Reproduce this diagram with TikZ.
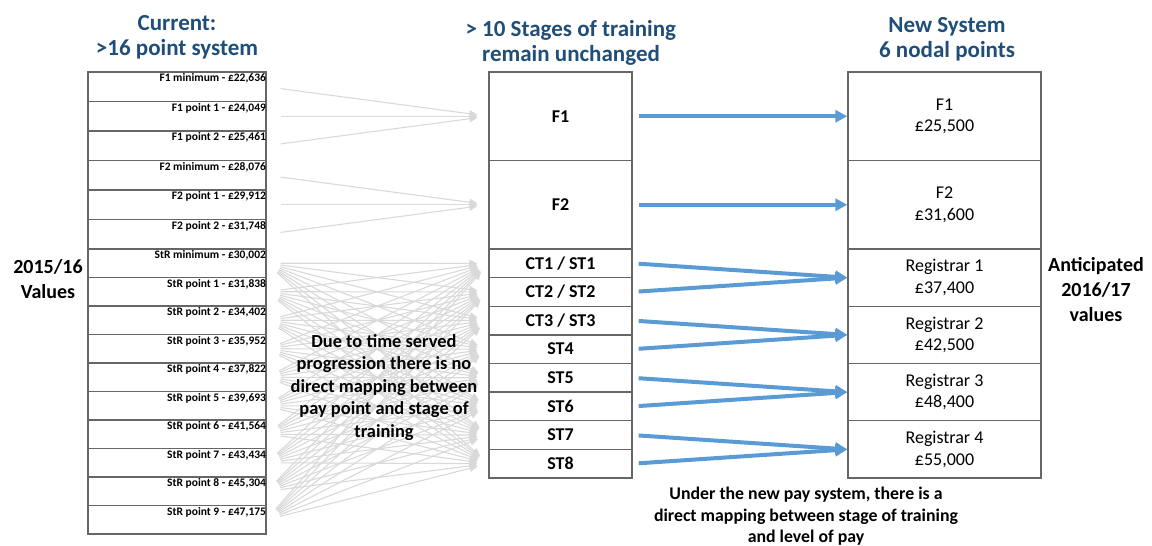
\documentclass[tikz,border=0pt]{standalone}
\usepackage{fontspec}
\setmainfont{Carlito}
\usetikzlibrary{arrows.meta}
\definecolor{headblue}{HTML}{1F4E79}
\definecolor{mapblue}{HTML}{5B9BD5}

\begin{document}
\begin{tikzpicture}[x=1pt, y=-1pt,
    cell/.style={draw=black!60, line width=1.3pt, inner sep=0pt},
    oldtxt/.style={anchor=north east, inner xsep=0.5pt, inner ysep=2pt, font={\fontsize{11.5}{13}\selectfont\bfseries}},
    stagetxt/.style={font={\fontsize{18}{21}\selectfont\bfseries}, text height=11.6pt, text depth=0pt},
    newtxt/.style={align=center, font={\fontsize{18}{21.5}\selectfont}},
    headtxt/.style={anchor=north, inner sep=0pt, align=center, text=headblue, font={\fontsize{23}{25}\selectfont\bfseries}},
    sidetxt/.style={anchor=north, inner sep=0pt, align=center, font={\fontsize{20}{25}\selectfont\bfseries}},
    fanarrow/.style={draw=black!15, line width=1.1pt, shorten <=14pt, shorten >=11pt, -{Triangle[length=8pt,width=7pt]}},
    maparrow/.style={draw=mapblue, line width=4pt, shorten <=6pt, -{Triangle[length=12pt,width=12pt]}}]
    \useasboundingbox (0,0) rectangle (1152,546);

    % headers
    \node[headtxt] (hcur) at (177,15) {Current:\\>16 point system};
    \node[headtxt, anchor=north west, align=left] (hstage) at (482,20) {\llap{> }10 Stages of training\\remain unchanged};
    \node[headtxt] (hnew) at (947,17) {New System\\6 nodal points};
    \node[sidetxt] (old year) at (48,259) {2015/16\\Values};
    \node[sidetxt] (new year) at (1096,257) {Anticipated\\2016/17\\values};

    % current pay points
    \foreach \lab [count=\i] in {{F1 minimum - £22,636},{F1 point 1 - £24,049},{F1 point 2 - £25,461},
        {F2 minimum - £28,076},{F2 point 1 - £29,912},{F2 point 2 - £31,748}}{
        \node[cell, minimum width=178pt, minimum height=29.5pt] (old\i) at (177,{72+29.5*(\i-0.5)}) {};
        \node[oldtxt] at (old\i.north east) {\lab};
    }
    \foreach \lab [count=\i from 7] in {{StR minimum - £30,002},{StR point 1 - £31,838},{StR point 2 - £34,402},
        {StR point 3 - £35,952},{StR point 4 - £37,822},{StR point 5 - £39,693},{StR point 6 - £41,564},
        {StR point 7 - £43,434},{StR point 8 - £45,304},{StR point 9 - £47,175}}{
        \node[cell, minimum width=178pt, minimum height=28.5pt] (old\i) at (177,{249+28.5*(\i-6.5)}) {};
        \node[oldtxt] at (old\i.north east) {\lab};
    }

    % stages of training
    \node[cell, stagetxt, minimum width=143pt, minimum height=88.5pt] (f1s) at (560.5,116.25) {F1};
    \node[cell, stagetxt, minimum width=143pt, minimum height=88.5pt] (f2s) at (560.5,204.75) {F2};
    \foreach \lab [count=\i] in {CT1 / ST1, CT2 / ST2, CT3 / ST3, ST4, ST5, ST6, ST7, ST8}
        \node[cell, stagetxt, minimum width=143pt, minimum height=28.625pt] (st\i) at (560.5,{249+28.625*(\i-0.5)}) {\lab};

    % new nodal points
    \node[cell, newtxt, minimum width=193pt, minimum height=88.5pt] (f1n) at (944.5,116.25) {F1\\£25,500};
    \node[cell, newtxt, minimum width=193pt, minimum height=88.5pt] (f2n) at (944.5,204.75) {F2\\£31,600};
    \foreach \lab [count=\i] in {{Registrar 1\\£37,400},{Registrar 2\\£42,500},{Registrar 3\\£48,400},{Registrar 4\\£55,000}}
        \node[cell, newtxt, minimum width=193pt, minimum height=57.25pt] (reg\i) at (944.5,{249+57.25*(\i-0.5)}) {\lab};

    % old points to stages
    \foreach \i in {1,2,3} \draw[fanarrow] (old\i.east) -- (f1s.west);
    \foreach \i in {4,5,6} \draw[fanarrow] (old\i.east) -- (f2s.west);
    \foreach \i in {7,...,16}
        \foreach \j in {1,...,8}
            \draw[fanarrow] (old\i.east) -- (st\j.west);

    % stages to new points
    \foreach \a/\b in {f1s/f1n, f2s/f2n, st1/reg1, st2/reg1, st3/reg2, st4/reg2, st5/reg3, st6/reg3, st7/reg4, st8/reg4}
        \draw[maparrow] (\a.east) -- (\b.west);

    % notes
    \node[anchor=north, inner sep=0pt, align=center, font={\fontsize{18.4}{22.5}\selectfont\bfseries}] (note old) at (384,334)
        {Due to time served\\progression there is no\\direct mapping between\\pay point and stage of\\training};
    \node[anchor=north, inner sep=0pt, align=center, font={\fontsize{17.8}{21.5}\selectfont\bfseries}] (note new) at (806,487)
        {Under the new pay system, there is a\\direct mapping between stage of training\\and level of pay};
\end{tikzpicture}
\end{document}
